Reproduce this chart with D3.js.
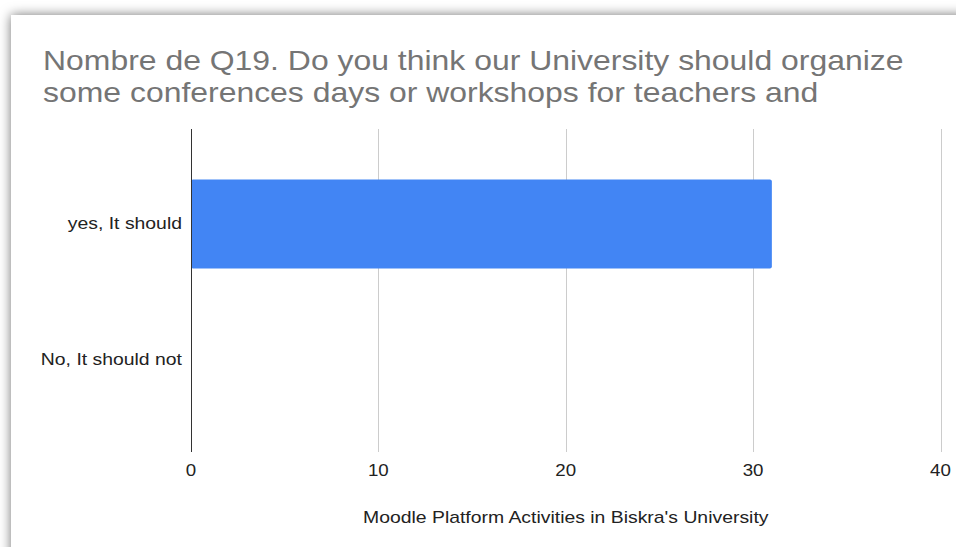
<!DOCTYPE html>
<html>
<head>
<meta charset="utf-8">
<script src="https://cdn.jsdelivr.net/npm/d3@7"></script>
<style>
  html, body { margin:0; padding:0; background:#fff; }
  text { font-family: "Liberation Sans", Arial, sans-serif; }
</style>
</head>
<body>
<div id="chart"></div>
<script>
////////////////////////////////////////////////////
// data
////////////////////////////////////////////////////
var categories = ["yes, It should", "No, It should not"];
var counts = [31, 0];
var xTicks = [0, 10, 20, 30, 40];
var titleLines = ["Nombre de Q19. Do you think our University should organize",
                  "some conferences days or workshops for teachers and"];
var xTitle = "Moodle Platform Activities in Biskra's University";

////////////////////////////////////////////////////
// the original picture is a bit wider than it is tall: stretch the texts the same way
function stretch(sel, k) {
	sel.each(function() {
		var w = this.getComputedTextLength();
		d3.select(this)
			.attr("textLength", w*k)
			.attr("lengthAdjust", "spacingAndGlyphs");
	});
}

function buildBarChart(theId) {
	var W = 956, H = 547;
	var left = 191, right = 940.5, top = 129, bottom = 452;

	var svg = d3.select("#"+theId).append("svg")
		.attr("width", W)
		.attr("height", H);

	// card with shadow
	var defs = svg.append("defs");
	var f = defs.append("filter").attr("id","shadow")
		.attr("x","-10%").attr("y","-10%").attr("width","130%").attr("height","130%");
	f.append("feDropShadow")
		.attr("dx",0).attr("dy",0)
		.attr("stdDeviation",6)
		.attr("flood-color","#000")
		.attr("flood-opacity",0.55);

	svg.append("rect")
		.attr("x", 11).attr("y", 15)
		.attr("width", W+40).attr("height", H+40)
		.attr("fill", "#fff")
		.attr("filter", "url(#shadow)");

	var x = d3.scaleLinear().domain([0, 40]).range([left, right]);
	var y = d3.scalePoint().domain(categories).range([224, 360]);
	var barH = 89;

	// title
	svg.append("g").selectAll("text")
		.data(titleLines)
		.enter().append("text")
			.attr("x", 43)
			.attr("y", function(d,i){ return 70 + i*32; })
			.attr("fill", "#757575")
			.attr("font-size", 28)
			.text(function(d){ return d; })
			.call(stretch, 1.14);

	// grid
	svg.append("g").selectAll("line")
		.data(xTicks.slice(1))
		.enter().append("line")
			.attr("x1", function(d){ return Math.round(x(d))+0.5; })
			.attr("x2", function(d){ return Math.round(x(d))+0.5; })
			.attr("y1", top).attr("y2", bottom)
			.attr("stroke", "#cccccc")
			.attr("stroke-width", 1);

	// bars
	svg.append("g").selectAll("rect")
		.data(categories)
		.enter().append("rect")
			.attr("x", x(0))
			.attr("y", function(d){ return y(d) - barH/2; })
			.attr("width", function(d,i){ return x(counts[i]) - x(0); })
			.attr("height", barH)
			.attr("rx", 2)
			.attr("fill", "#4285f4");

	// zero axis
	svg.append("line")
		.attr("x1", Math.round(x(0))+0.5).attr("x2", Math.round(x(0))+0.5)
		.attr("y1", top).attr("y2", bottom)
		.attr("stroke", "#333")
		.attr("stroke-width", 1);

	// category labels
	svg.append("g").selectAll("text")
		.data(categories)
		.enter().append("text")
			.attr("x", x(0) - 9)
			.attr("y", function(d){ return y(d) - 1; })
			.attr("dy", "0.35em")
			.attr("text-anchor", "end")
			.attr("fill", "#222")
			.attr("font-size", 17)
			.text(function(d){ return d; })
			.call(stretch, 1.14);

	// tick labels
	svg.append("g").selectAll("text")
		.data(xTicks)
		.enter().append("text")
			.attr("x", function(d){ return x(d); })
			.attr("y", 476)
			.attr("text-anchor", "middle")
			.attr("fill", "#222")
			.attr("font-size", 17)
			.text(function(d){ return d; })
			.call(stretch, 1.1);

	// axis title
	svg.append("text")
		.attr("x", (left+right)/2)
		.attr("y", 523)
		.attr("text-anchor", "middle")
		.attr("fill", "#222")
		.attr("font-size", 17)
		.text(xTitle)
		.call(stretch, 1.14);
};
////////////////////////////////////////////////////

buildBarChart("chart");
</script>
</body>
</html>
